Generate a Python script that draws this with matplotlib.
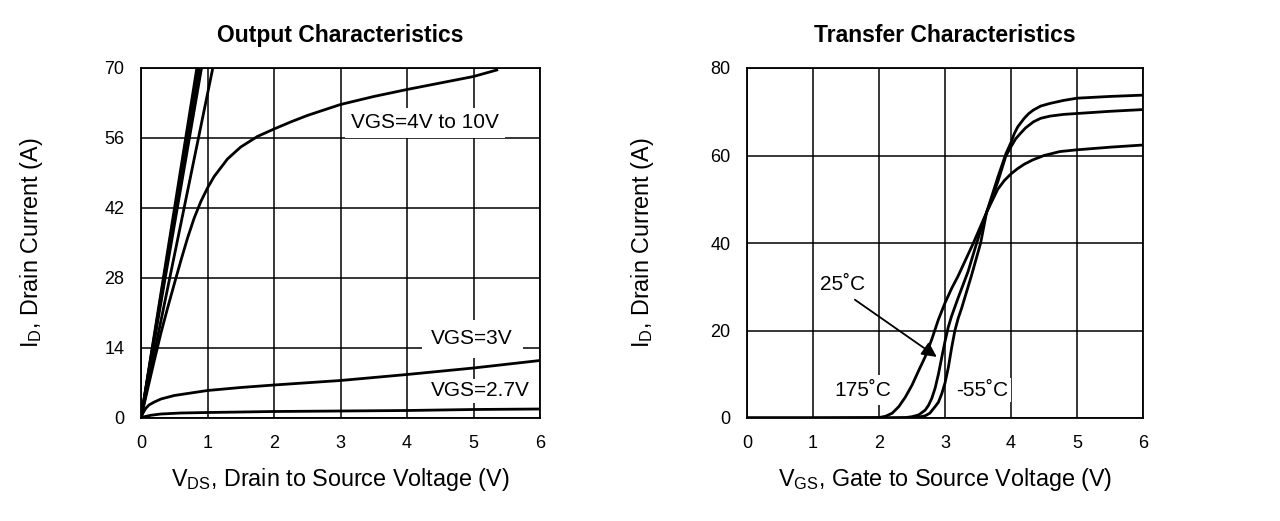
import matplotlib
matplotlib.use("Agg")
import matplotlib.pyplot as plt

plt.rcParams['font.family'] = ['Liberation Sans', 'DejaVu Sans']
plt.rcParams['mathtext.fontset'] = 'custom'
plt.rcParams['mathtext.rm'] = 'Liberation Sans'

# ---- Output characteristics (ID vs VDS) ----
# VGS=4V..10V family: nearly straight lines from origin, x where they hit 70 A
vds_at_70_high = [0.84, 0.86, 0.88, 0.91, 1.08]

vds_4v = [0, 0.1, 0.2, 0.3, 0.4, 0.5, 0.6, 0.7, 0.8, 0.9, 1.0, 1.1, 1.3, 1.5, 1.75, 2.0, 2.25,
          2.5, 3.0, 3.5, 4.0, 4.5, 5.0, 5.35]
id_4v = [0, 5.8, 11.5, 17, 22, 26.8, 31.5, 36, 40, 43.3, 46, 48.3, 51.8, 54.2, 56.3, 57.8, 59.2,
         60.5, 62.7, 64.3, 65.7, 67, 68.3, 69.6]

vds_3v = [0, 0.03, 0.07, 0.12, 0.2, 0.3, 0.5, 0.75, 1.0, 1.5, 2.0, 3.0, 4.0, 5.0, 6.0]
id_3v = [0, 1.0, 1.9, 2.6, 3.2, 3.8, 4.5, 5.0, 5.5, 6.1, 6.6, 7.5, 8.7, 10.0, 11.5]

vds_27v = [0, 0.05, 0.15, 0.3, 0.6, 1.0, 2.0, 3.0, 4.0, 5.0, 6.0]
id_27v = [0, 0.25, 0.55, 0.8, 1.0, 1.1, 1.3, 1.4, 1.5, 1.7, 1.8]

# ---- Transfer characteristics (ID vs VGS) ----
vgs_175 = [0, 1.0, 2.0, 2.1, 2.2, 2.3, 2.4, 2.5, 2.6, 2.7, 2.8, 2.9, 3.0, 3.1, 3.2, 3.43, 3.63,
           3.8, 3.9, 4.0, 4.1, 4.2, 4.33, 4.5, 4.74, 5.0, 5.5, 6.0]
id_175 = [0, 0, 0.1, 0.4, 1.1, 2.6, 4.8, 7.5, 10.8, 14, 18, 22.5, 26.3, 29.6, 32.5, 40, 47,
          52.3, 54.3, 55.8, 57, 58, 59, 60, 60.9, 61.3, 61.9, 62.4]

vgs_25 = [0, 2.0, 2.4, 2.5, 2.6, 2.7, 2.75, 2.8, 2.85, 2.9, 2.95, 3.0, 3.05, 3.1, 3.2, 3.35,
          3.48, 3.63, 3.8, 3.92, 4.0, 4.07, 4.14, 4.22, 4.34, 4.45, 4.59, 4.8, 5.0, 5.5, 6.0]
id_25 = [0, 0, 0.1, 0.3, 0.7, 1.8, 2.9, 4.5, 6.8, 10, 13.8, 17.5, 20.8, 23.3, 27.5, 33.5,
         40, 47, 54, 59.8, 62, 63.8, 65, 66.3, 67.7, 68.5, 69, 69.4, 69.6, 70.1, 70.5]

vgs_m55 = [0, 2.0, 2.5, 2.6, 2.7, 2.77, 2.85, 2.9, 2.95, 3.0, 3.05, 3.1, 3.15, 3.2, 3.25, 3.4,
           3.54, 3.63, 3.8, 3.92, 4.0, 4.05, 4.1, 4.2, 4.27, 4.34, 4.45, 4.59, 4.8, 5.0, 5.5, 6.0]
id_m55 = [0, 0, 0.05, 0.2, 0.5, 1.1, 2.6, 3.6, 5.5, 8, 11.5, 16, 20, 22.8, 25, 32.5,
          40, 47, 55, 60.3, 63, 65, 66.5, 68.5, 69.6, 70.4, 71.3, 71.9, 72.6, 73.1, 73.5, 73.8]

out_xticks = [0, 1, 2, 3, 4, 5, 6]
out_yticks = [0, 14, 28, 42, 56, 70]
tr_xticks = [0, 1, 2, 3, 4, 5, 6]
tr_yticks = [0, 20, 40, 60, 80]

LW = 2.0
W, H = 1280, 521
fig = plt.figure(figsize=(12.8, 5.21), dpi=100)
ax1 = fig.add_axes([141 / W, 1 - 418 / H, 399 / W, 350 / H])
ax2 = fig.add_axes([747 / W, 1 - 418 / H, 396 / W, 350 / H])


def style_axes(ax, xticks, yticks):
    ax.set_xlim(xticks[0], xticks[-1])
    ax.set_ylim(yticks[0], yticks[-1])
    ax.set_xticks(xticks)
    ax.set_yticks(yticks)
    ax.grid(True, color='black', linewidth=1.1)
    ax.set_axisbelow(True)
    ax.tick_params(length=0, pad=12, labelsize=13)
    for s in ax.spines.values():
        s.set_linewidth(1.3)


style_axes(ax1, out_xticks, out_yticks)
style_axes(ax2, tr_xticks, tr_yticks)

# output characteristics curves
for xe in vds_at_70_high:
    ax1.plot([0, xe], [0, 70], color='black', lw=LW, zorder=4)
ax1.plot(vds_4v, id_4v, color='black', lw=LW, zorder=4)
ax1.plot(vds_3v, id_3v, color='black', lw=LW, zorder=4)
ax1.plot(vds_27v, id_27v, color='black', lw=LW, zorder=4)

box = dict(facecolor='white', edgecolor='none')
ax1.text(4.27, 59.0, 'VGS=4V to 10V', fontsize=15, ha='center', va='center',
         bbox=dict(box, pad=4), zorder=3)
ax1.text(4.98, 15.8, 'VGS=3V', fontsize=15, ha='center', va='center',
         bbox=dict(box, pad=7), zorder=3)
ax1.text(5.11, 5.4, 'VGS=2.7V', fontsize=15, ha='center', va='center',
         bbox=dict(box, pad=2), zorder=3)

ax1.set_title('Output Characteristics', fontsize=16.5, fontweight='bold', pad=19)
ax1.set_xlabel(r'V$_\mathregular{DS}$, Drain to Source Voltage (V)', fontsize=16.8, labelpad=10)
fig.text(32 / W, 1 - 243 / H, r'I$_\mathregular{D}$, Drain Current (A)', fontsize=16.8,
         rotation=90, ha='center', va='center')

# transfer characteristics curves
ax2.plot(vgs_175, id_175, color='black', lw=LW, zorder=4)
ax2.plot(vgs_25, id_25, color='black', lw=LW, zorder=4)
ax2.plot(vgs_m55, id_m55, color='black', lw=LW, zorder=4)

ax2.text(1.45, 30.4, '25˚C', fontsize=15, ha='center', va='center', zorder=3)
ax2.annotate('', xy=(2.91, 13.6), xytext=(1.6, 27.4),
             arrowprops=dict(arrowstyle='-|>', color='black', lw=1.3, mutation_scale=22),
             zorder=5)
ax2.text(1.76, 6.4, '175˚C', fontsize=15, ha='center', va='center',
         bbox=dict(box, pad=4), zorder=3)
ax2.text(3.56, 6.4, '-55˚C', fontsize=15, ha='center', va='center',
         bbox=dict(box, pad=2), zorder=3)

ax2.set_title('Transfer Characteristics', fontsize=16.5, fontweight='bold', pad=19)
ax2.set_xlabel(r'V$_\mathregular{GS}$, Gate to Source Voltage (V)', fontsize=16.8, labelpad=10)
fig.text(642 / W, 1 - 243 / H, r'I$_\mathregular{D}$, Drain Current (A)', fontsize=16.8,
         rotation=90, ha='center', va='center')

fig.savefig('out.png', dpi=100)
